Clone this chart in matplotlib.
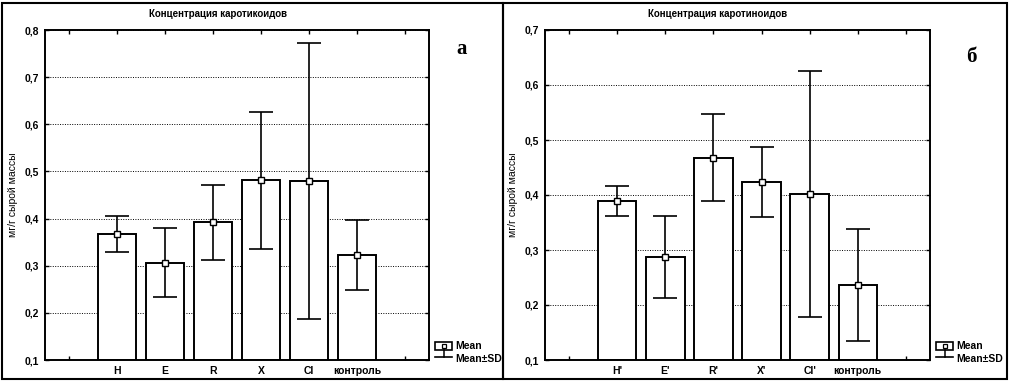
import numpy as np
import matplotlib
matplotlib.use("Agg")
import matplotlib.pyplot as plt
from matplotlib.patches import Rectangle
from matplotlib.ticker import FuncFormatter

plt.rcParams['font.family'] = ['Liberation Sans', 'DejaVu Sans']

# panel a
cats_a = ["H", "E", "R", "X", "Cl", "контроль"]
mean_a = [0.367, 0.306, 0.392, 0.481, 0.480, 0.323]
sd_a = [0.038, 0.073, 0.080, 0.145, 0.292, 0.075]
title_a = "Концентрация каротикоидов"

# panel б
cats_b = ["H'", "E'", "R'", "X'", "Cl'", "контроль"]
mean_b = [0.389, 0.287, 0.468, 0.424, 0.402, 0.236]
sd_b = [0.027, 0.075, 0.079, 0.064, 0.223, 0.102]
title_b = "Концентрация каротиноидов"

ylabel = "мг/г сырой массы"
W, H = 1009, 383

fig = plt.figure(figsize=(W / 100, H / 100), dpi=100)
fig.patch.set_facecolor("white")


def px_axes(x0, y0, x1, y1):
    return fig.add_axes([x0 / W, 1 - y1 / H, (x1 - x0) / W, (y1 - y0) / H])


def panel(ax, cats, means, sds, ymax):
    pos = np.arange(len(cats)) + 1.5
    ax.bar(pos, [m - 0.1 for m in means], bottom=0.1, width=0.8,
           color="white", edgecolor="black", linewidth=1.4, zorder=2)
    ax.errorbar(pos, means, yerr=sds, fmt="none", ecolor="black",
                elinewidth=1.2, capsize=8.9, capthick=1.2, zorder=3)
    ax.plot(pos, means, "s", ms=4.2, mfc="white", mec="black", mew=1.0,
            zorder=4, linestyle="none")
    ax.set_xlim(0, 8)
    ax.set_ylim(0.1, ymax)
    ax.set_xticks(np.arange(0.5, 8, 1))
    ax.set_xticklabels([""] + cats + [""])
    ax.set_yticks(np.arange(0.1, ymax + 0.001, 0.1))
    ax.yaxis.set_major_formatter(FuncFormatter(lambda v, p: ("%.1f" % v).replace(".", ",")))
    ax.grid(axis="y", linestyle=(0, (1, 1.5)), color="black", linewidth=0.7, zorder=0)
    ax.set_axisbelow(True)
    ax.tick_params(direction="in", length=3, width=1, top=True, right=True,
                   labelsize=7.5, pad=4)
    for lab in ax.get_xticklabels() + ax.get_yticklabels():
        lab.set_fontweight("bold")
    for s in ax.spines.values():
        s.set_linewidth(1.4)


ax1 = px_axes(45, 30, 429, 360)
panel(ax1, cats_a, mean_a, sd_a, 0.8)
ax2 = px_axes(545, 30, 930, 360)
panel(ax2, cats_b, mean_b, sd_b, 0.7)

# overlay in pixel coords for frames, titles and legends
ov = fig.add_axes([0, 0, 1, 1], zorder=-1)
ov.set_xlim(0, W)
ov.set_ylim(H, 0)
ov.axis("off")
ov.patch.set_alpha(0)

for x0, x1 in [(2, 503), (503, 1007)]:
    ov.add_patch(Rectangle((x0, 3), x1 - x0, 376, fill=False, edgecolor="black", linewidth=1.5))

ov2 = fig.add_axes([0, 0, 1, 1], zorder=5)
ov2.set_xlim(0, W)
ov2.set_ylim(H, 0)
ov2.axis("off")
ov2.patch.set_alpha(0)

for dx, title, letter, ly in [(0, title_a, "а", 49), (500, title_b, "б", 57)]:
    ov2.text(218 + dx, 14, title, ha="center", va="center", fontsize=7, fontweight="bold")
    ov2.text(13 + dx, 195, ylabel, ha="center", va="center", rotation=90, fontsize=7.5)
    ov2.text(462 + dx + (9 if dx else 0), ly, letter, ha="center", va="center", fontsize=15,
             fontweight="bold", family="Liberation Serif")
    # legend
    lx = 435 + dx + (1 if dx else 0)
    ov2.add_patch(Rectangle((lx, 342), 17, 8, fill=False, edgecolor="black", linewidth=1.2))
    ov2.plot([lx + 8.5], [346], "s", ms=3.5, mfc="white", mec="black", mew=0.9)
    ov2.plot([lx + 8.5, lx + 8.5], [350, 357], color="black", linewidth=1.1)
    ov2.plot([lx, lx + 17], [357, 357], color="black", linewidth=1.2)
    ov2.text(lx + 20, 346, "Mean", ha="left", va="center", fontsize=7.5, fontweight="bold")
    ov2.text(lx + 20, 359, "Mean±SD", ha="left", va="center", fontsize=7.5, fontweight="bold")

fig.savefig("out.png", dpi=100)
